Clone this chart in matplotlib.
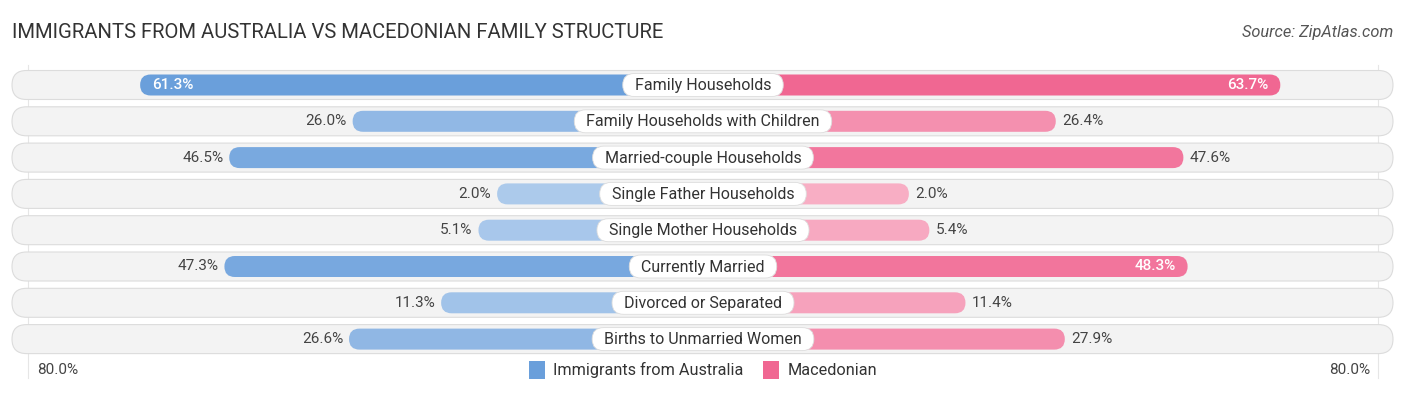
import numpy as np
import matplotlib.pyplot as plt
from matplotlib.patches import FancyBboxPatch, Patch
from matplotlib.colors import to_rgb

categories = ["Family Households", "Family Households with Children", "Married-couple Households",
              "Single Father Households", "Single Mother Households", "Currently Married",
              "Divorced or Separated", "Births to Unmarried Women"]
australia = [61.3, 26.0, 46.5, 2.0, 5.1, 47.3, 11.3, 26.6]
macedonian = [63.7, 26.4, 47.6, 2.0, 5.4, 48.3, 11.4, 27.9]
series_names = ["Immigrants from Australia", "Macedonian"]
axis_max = 80.0

plt.rcParams['font.family'] = ['Roboto', 'DejaVu Sans']

W, H = 1406, 395
px = 6.02          # pixels per unit (equal in x and y)
off = 32.2         # bar offset from centre (room for label)
row0 = 85 / px
pitch = 36.3 / px

blue_dark, blue_light = np.array(to_rgb('#6a9fdb')), np.array(to_rgb('#aecbec'))
pink_dark, pink_light = np.array(to_rgb('#f06792')), np.array(to_rgb('#f8b0c6'))


def shade(v, dark, light):
    t = min(v / 60.0, 1.0)
    return tuple(light + (dark - light) * t)


fig = plt.figure(figsize=(W / 100, H / 100), dpi=100)
ax = fig.add_axes([0, 0, 1, 1])
ax.set_xlim(-W / 2 / px, W / 2 / px)
ax.set_ylim(H / px, 0)
ax.axis('off')
renderer = fig.canvas.get_renderer()

# faint gridlines at +-80%
for s in (-1, 1):
    ax.plot([s * (off + axis_max)] * 2, [65 / px, 378 / px], color='#e6e6e6', lw=0.8, zorder=0)

bg_h = 29 / px
bar_h = 21 / px
lab_h = 23 / px
bg_left, bg_right = (12 - W / 2) / px, (1393 - W / 2) / px

for i, (cat, a, m) in enumerate(zip(categories, australia, macedonian)):
    y = row0 + i * pitch
    ax.add_patch(FancyBboxPatch((bg_left, y - bg_h / 2), bg_right - bg_left, bg_h,
                                boxstyle=f"round,pad=0,rounding_size={bg_h / 2}",
                                fc='#f3f3f3', ec='#dcdcdc', lw=0.8, zorder=1))
    la = off + a
    lm = off + m
    ax.add_patch(FancyBboxPatch((-la, y - bar_h / 2), la, bar_h,
                                boxstyle=f"round,pad=0,rounding_size={bar_h / 2}",
                                fc=shade(a, blue_dark, blue_light), ec='none', zorder=2))
    ax.add_patch(FancyBboxPatch((0, y - bar_h / 2), lm, bar_h,
                                boxstyle=f"round,pad=0,rounding_size={bar_h / 2}",
                                fc=shade(m, pink_dark, pink_light), ec='none', zorder=2))
    t = ax.text(0, y + 0.1, cat, ha='center', va='center', fontsize=11.5, color='#333333', zorder=5)
    tw = t.get_window_extent(renderer).width / px + 24 / px
    ax.add_patch(FancyBboxPatch((-tw / 2, y - lab_h / 2), tw, lab_h,
                                boxstyle=f"round,pad=0,rounding_size={lab_h / 2}",
                                fc='white', ec='#dddddd', lw=0.6, zorder=4))
    if a > 48:
        ax.text(-la + 2, y, f"{a:.1f}%", ha='left', va='center', fontsize=11,
                color='white', fontweight='medium', zorder=3)
    else:
        ax.text(-la - 1, y, f"{a:.1f}%", ha='right', va='center', fontsize=11,
                color='#444444', zorder=3)
    if m > 48:
        ax.text(lm - 2, y, f"{m:.1f}%", ha='right', va='center', fontsize=11,
                color='white', fontweight='medium', zorder=3)
    else:
        ax.text(lm + 1, y, f"{m:.1f}%", ha='left', va='center', fontsize=11,
                color='#444444', zorder=3)

ax.text((12 - W / 2) / px, 33 / px, "IMMIGRANTS FROM AUSTRALIA VS MACEDONIAN FAMILY STRUCTURE",
        ha='left', va='center', fontsize=14.6, color='#333333')
ax.text((1393 - W / 2) / px, 33 / px, "Source: ZipAtlas.com", ha='right', va='center',
        fontsize=11.8, color='#555555', style='italic')

ax.text((37 - W / 2) / px, 370 / px, f"{axis_max:.1f}%", ha='left', va='center',
        fontsize=11, color='#444444')
ax.text((1370 - W / 2) / px, 370 / px, f"{axis_max:.1f}%", ha='right', va='center',
        fontsize=11, color='#444444')

handles = [Patch(fc=blue_dark, ec='none', label=series_names[0]),
           Patch(fc=pink_dark, ec='none', label=series_names[1])]
ax.legend(handles=handles, loc='center', bbox_to_anchor=(0.5, 1 - 370 / H), ncol=2,
          frameon=False, fontsize=11.7, handlelength=1.0, handleheight=1.3,
          handletextpad=0.5, columnspacing=1.2, labelcolor='#333333')

fig.savefig('out.png', dpi=100)
